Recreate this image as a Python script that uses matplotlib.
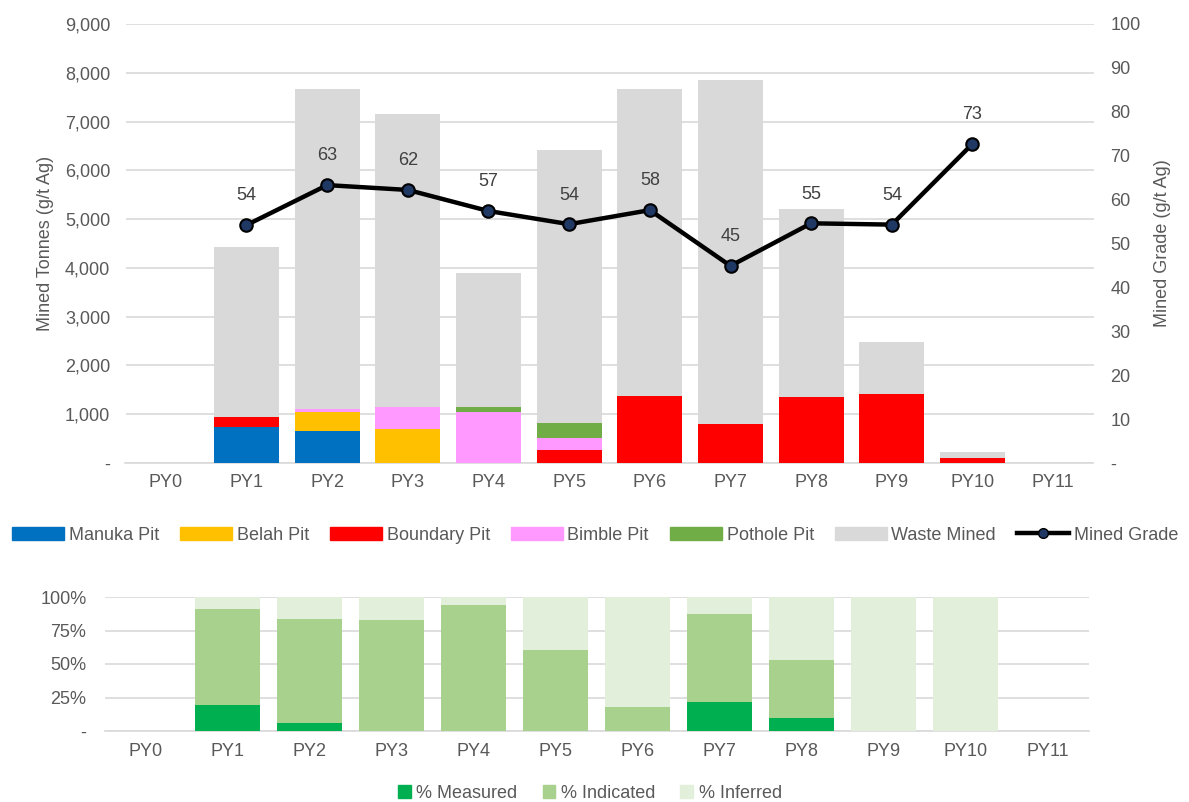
import numpy as np
import matplotlib
matplotlib.use("Agg")
import matplotlib.pyplot as plt
from matplotlib.lines import Line2D
from matplotlib.patches import Patch
from matplotlib.ticker import FuncFormatter

plt.rcParams['font.family'] = ['Liberation Sans', 'DejaVu Sans']

# ---- data ----
years = ['PY0', 'PY1', 'PY2', 'PY3', 'PY4', 'PY5', 'PY6', 'PY7', 'PY8', 'PY9', 'PY10', 'PY11']
manuka = [0, 730, 650, 0, 0, 0, 0, 0, 0, 0, 0, 0]
belah = [0, 0, 395, 705, 0, 0, 0, 0, 0, 0, 0, 0]
boundary = [0, 205, 0, 0, 0, 260, 1373, 793, 1346, 1414, 102, 0]
bimble = [0, 0, 55, 450, 1040, 260, 0, 0, 0, 0, 0, 0]
pothole = [0, 0, 0, 0, 115, 293, 0, 0, 0, 0, 0, 0]
waste = [0, 3495, 6560, 6000, 2735, 5597, 6287, 7057, 3854, 1066, 130, 0]
grade = [np.nan, 54.2, 63.3, 62.2, 57.4, 54.4, 57.6, 44.9, 54.6, 54.3, 72.7, np.nan]

measured = [0, 19.4, 6.2, 0, 0, 0, 0, 21.4, 9.9, 0, 0, 0]
indicated = [0, 71.9, 77.4, 82.8, 94.3, 60.7, 17.7, 66.1, 43.1, 0, 0, 0]
inferred = [0, 8.7, 16.4, 17.2, 5.7, 39.3, 82.3, 12.5, 47.0, 100, 100, 0]

pit_names = ['Manuka Pit', 'Belah Pit', 'Boundary Pit', 'Bimble Pit', 'Pothole Pit', 'Waste Mined']
pit_colors = ['#0070C0', '#FFC000', '#FF0000', '#FF99FF', '#70AD47', '#D9D9D9']
res_names = ['% Measured', '% Indicated', '% Inferred']
res_colors = ['#00B050', '#A9D18E', '#E2EFDA']

txt = '#595959'
grid = '#D9D9D9'
fs = 13

fig = plt.figure(figsize=(11.89, 8.02), dpi=100)
W, H = 1189, 802
ax = fig.add_axes([125.5 / W, 1 - 463 / H, 968 / W, 439 / H])
ax2 = ax.twinx()
axb = fig.add_axes([104.5 / W, 1 - 731 / H, 984 / W, 134 / H])

x = np.arange(len(years))

# ---- top chart ----
bottom = np.zeros(len(years))
for vals, c in zip([manuka, belah, boundary, bimble, pothole, waste], pit_colors):
    ax.bar(x, vals, 0.805, bottom=bottom, color=c, zorder=3)
    bottom += np.array(vals)

ax.set_ylim(0, 9000)
ax.set_yticks(np.arange(0, 9001, 1000))
ax.yaxis.set_major_formatter(FuncFormatter(lambda v, p: '-' if v == 0 else f'{int(v):,}'))
ax.set_xlim(-0.5, len(years) - 0.5)
ax.set_xticks(x)
ax.set_xticklabels(years)
ax.grid(axis='y', color=grid, linewidth=1.2, zorder=0)
ax.set_ylabel('Mined Tonnes (g/t Ag)', color=txt, fontsize=fs, labelpad=8)

ax2.plot(x, grade, color='black', linewidth=3.2, marker='o', markersize=9,
         markerfacecolor='#1F3864', markeredgecolor='black', markeredgewidth=1.5, zorder=5)
for xi, g in zip(x, grade):
    if not np.isnan(g):
        ax2.annotate(f'{g:.0f}', (xi, g), textcoords='offset points', xytext=(0, 21),
                     ha='center', va='center', color='#404040', fontsize=fs)
ax2.set_ylim(0, 100)
ax2.set_yticks(np.arange(0, 101, 10))
ax2.yaxis.set_major_formatter(FuncFormatter(lambda v, p: '-' if v == 0 else f'{int(v)}'))
ax2.set_ylabel('Mined Grade (g/t Ag)', color=txt, fontsize=fs, labelpad=10)

for a in (ax, ax2, axb):
    for s in a.spines.values():
        s.set_visible(False)
    a.tick_params(length=0, colors=txt, labelsize=fs)
ax.spines['bottom'].set_visible(True)
ax.spines['bottom'].set_color(grid)
ax.spines['bottom'].set_linewidth(1.2)
ax.tick_params(axis='x', pad=8)
ax.tick_params(axis='y', pad=11)
ax2.tick_params(axis='y', pad=12)
ax.set_zorder(1)
ax2.set_zorder(2)

handles = [Patch(color=c) for c in pit_colors]
handles.append(Line2D([], [], color='black', linewidth=3.2, marker='o', markersize=7,
                      markerfacecolor='#1F3864', markeredgecolor='black'))
fig.legend(handles, pit_names + ['Mined Grade'], loc='center', bbox_to_anchor=(595 / W, 1 - 535 / H),
           ncol=7, frameon=False, fontsize=fs, labelcolor=txt, handlelength=2.9,
           handleheight=0.7, handletextpad=0.25, columnspacing=1.15, borderpad=0)

# ---- bottom chart ----
bottom = np.zeros(len(years))
for vals, c in zip([measured, indicated, inferred], res_colors):
    axb.bar(x, vals, 0.79, bottom=bottom, color=c, zorder=3)
    bottom += np.array(vals)
axb.set_ylim(0, 100)
axb.set_yticks([0, 25, 50, 75, 100])
axb.yaxis.set_major_formatter(FuncFormatter(lambda v, p: '-' if v == 0 else f'{int(v)}%'))
axb.set_xlim(-0.5, len(years) - 0.5)
axb.set_xticks(x)
axb.set_xticklabels(years)
axb.grid(axis='y', color=grid, linewidth=1.2, zorder=0)
axb.spines['bottom'].set_visible(True)
axb.spines['bottom'].set_color(grid)
axb.spines['bottom'].set_linewidth(1.2)
axb.tick_params(axis='x', pad=9)
axb.tick_params(axis='y', pad=13)

fig.legend([Patch(color=c) for c in res_colors], res_names, loc='center',
           bbox_to_anchor=(590 / W, 1 - 793 / H), ncol=3, frameon=False, fontsize=fs,
           labelcolor=txt, handlelength=0.7, handleheight=0.7, handletextpad=0.3,
           columnspacing=1.4, borderpad=0)

fig.savefig('out.png', dpi=100)
